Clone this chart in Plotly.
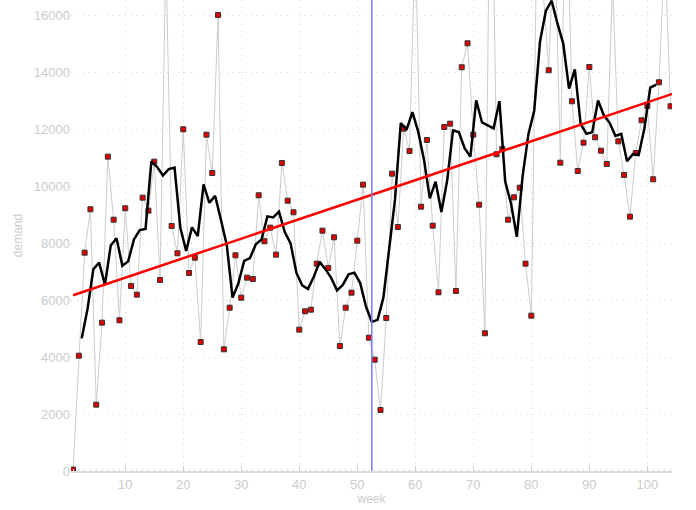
import plotly.graph_objects as go
import numpy as np

# weekly demand (off-chart peaks estimated from the moving average)
weeks = list(range(1, 105))
demand = [
    50, 4054, 7676, 9202, 2332, 5215, 11052, 8836, 5298, 9237,
    6505, 6200, 9610, 9153, 10876, 6716, 18080, 8615, 7654, 12014,
    6962, 7500, 4536, 11825, 10478, 16034, 4279, 5742, 7584, 6094,
    6797, 6751, 9694, 8077, 8556, 7606, 10830, 9504, 9096, 4969,
    5615, 5672, 7290, 8450, 7138, 8217, 4395, 5742, 6270, 8098,
    10067, 4688, 3914, 2145, 5380, 10454, 8579, 12036, 11252, 18850,
    9293, 11639, 8626, 6283, 12096, 12212, 6329, 14195, 15038, 11826,
    9363, 4842, 24100, 11136, 11321, 8836, 9623, 9962, 7290, 5461,
    19500, 17000, 14089, 19450, 10840, 21300, 13000, 10548, 11544, 14205,
    11733, 11262, 10795, 17150, 11592, 10408, 8942, 11181, 12331, 12834,
    10257, 13667, 18320, 12823,
]
split_week = 52.5
ma_window = 5

w = np.array(weeks, dtype=float)
d = np.array(demand, dtype=float)

# centred moving average
ma = np.convolve(d, np.ones(ma_window) / ma_window, mode="valid")
half = ma_window // 2
ma_x = w[half:-half] - 0.5

# linear trend
slope, intercept = np.polyfit(w, d, 1)
trend_x = np.array([w[0], w[-1] + 1])
trend_y = intercept + slope * trend_x

fig = go.Figure()

fig.add_trace(go.Scatter(
    x=w, y=d,
    mode="lines+markers",
    line=dict(color="#cccccc", width=1),
    marker=dict(symbol="square", size=5, color="#e00000",
                line=dict(color="#333333", width=1)),
    name="demand",
))

fig.add_trace(go.Scatter(
    x=ma_x, y=ma,
    mode="lines",
    line=dict(color="black", width=2.5),
    name="moving average",
))

fig.add_trace(go.Scatter(
    x=trend_x, y=trend_y,
    mode="lines",
    line=dict(color="#ff0000", width=2.5),
    name="trend",
))

fig.add_shape(type="line", x0=split_week, x1=split_week, y0=0, y1=1,
              xref="x", yref="paper",
              line=dict(color="#7a7aff", width=1.5))

axis_font = dict(family="Liberation Sans, Arial, sans-serif", size=13, color="#cccccc")

fig.update_layout(
    width=696, height=510,
    margin=dict(l=71, r=24, t=0, b=39),
    paper_bgcolor="white",
    plot_bgcolor="white",
    showlegend=False,
    font=axis_font,
)

fig.update_xaxes(
    range=[0.65, 104.25],
    tickmode="array", tickvals=[10, 20, 30, 40, 50, 60, 70, 80, 90, 100],
    ticks="inside", ticklen=5, tickcolor="#cccccc",
    minor=dict(ticks="inside", ticklen=2, dtick=1, tickcolor="#dddddd", showgrid=False),
    showgrid=True, gridcolor="#d8d8d8", griddash="1px,5px", gridwidth=1,
    showline=True, linecolor="#dddddd", linewidth=2,
    zeroline=False, automargin=False,
    tickfont=axis_font,
    title=dict(text="week", font=dict(size=12, color="#cccccc"), standoff=2),
)

fig.update_yaxes(
    range=[0, 16560],
    tickmode="array", tickvals=list(range(0, 16001, 2000)), tickformat="d",
    showgrid=True, gridcolor="#d8d8d8", griddash="1px,5px", gridwidth=1,
    showline=False, zeroline=False, automargin=False,
    ticks="", tickfont=axis_font,
    title=dict(text="demand", font=dict(size=12, color="#cccccc"), standoff=8),
)

# drop the browser's default page margin so the figure sits at the window corner
fig.write_html("out.html", config={"displayModeBar": False},
               post_script="document.body.style.margin='0';")
